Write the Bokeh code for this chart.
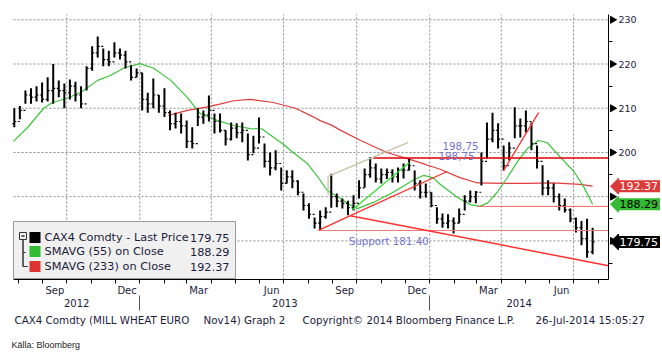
import math
import pandas as pd
from bokeh.plotting import figure
from bokeh.models import (Range1d, FixedTicker, DatetimeAxis, DatetimeTickFormatter,
                          Label, BoxAnnotation)
from bokeh.embed import file_html
from bokeh.resources import INLINE

# ---------------- data ----------------
first_week = "2012-07-27"
first_open = 206.5
highs = [210, 210.5, 214, 214.5, 215, 215.8, 217, 220, 216.3, 215.6,
         216.5, 216, 215, 219.5, 224, 226.2, 223.5, 223, 224.9, 223.5,
         223, 219.7, 219, 218, 213.5, 216.7, 213, 214.5, 209.5, 209,
         208.8, 207.2, 205.7, 210, 209.5, 212.9, 208.8, 208.8, 205, 206.8,
         206.6, 206.8, 204.3, 203.8, 207.9, 202, 200, 200.5, 196.6, 196,
         196, 193.7, 190.7, 188.5, 185.3, 186.9, 187.6, 195.2, 190.7, 189.6,
         189.1, 190.3, 193.7, 196.4, 198.9, 197.5, 196.4, 196.4, 196.2, 196.6,
         197.5, 198.6, 195.9, 193.7, 193, 191, 187.6, 186.2, 186, 185.3,
         187.3, 190.3, 191.4, 191.3, 200, 206.8, 209, 206.6, 201.6, 202.3,
         210.2, 207.7, 209.5, 206.8, 201.6, 197.1, 193.7, 193, 190.7, 189.6,
         187.3, 185.3, 184.5, 185, 183]
lows = [205.7, 207.5, 211, 211, 211.5, 211.3, 211.5, 211, 212.5, 210,
        212, 211.5, 210, 214, 218.5, 221.5, 219.5, 219.5, 221.5, 221,
        219, 216.3, 217, 209.5, 209, 210, 209, 208, 205, 205.4,
        204.3, 201, 200.9, 206, 206.5, 207, 204.3, 204.5, 201.6, 202.7,
        203.2, 202.3, 198.2, 199.8, 202, 196.6, 194.8, 196, 191.4, 193,
        191.9, 190.3, 186.9, 185, 182.8, 182.4, 185, 187.5, 187.6, 187.3,
        185.8, 186.9, 189.6, 192.1, 194.3, 193.2, 193, 194, 193.2, 193.2,
        194.1, 195.9, 191.4, 189.6, 189.8, 187.6, 183.9, 183, 182.8, 181.7,
        184, 186.9, 188.7, 188.5, 192.5, 198.6, 202.3, 200.9, 195.9, 198.2,
        203.2, 203.4, 204.5, 200.5, 196.4, 190.3, 190.3, 188.7, 186.9, 186.4,
        184.2, 181.9, 179, 176.2, 177]
closes = [207, 209.5, 213, 212.5, 213, 212, 214, 214.5, 214, 213.5,
          215, 213, 211, 219, 222.5, 224, 221, 220.5, 222.5, 222,
          220.5, 217, 218, 212, 211, 213, 210.5, 209, 206.5, 207,
          206, 202.5, 202, 208, 208.5, 209.5, 207, 205, 203, 205.5,
          204.5, 205, 199.5, 201, 203.5, 198, 196.5, 197.5, 193, 194.5,
          193.5, 191, 188, 186, 184, 185.5, 186.5, 190, 189, 188.5,
          187.5, 188.5, 192, 195, 196.5, 194, 195, 195.5, 194.5, 196,
          196, 197, 193, 191, 191, 188, 185, 184, 184.5, 184,
          186, 189, 190, 191, 198, 203, 205, 203, 197, 201,
          206, 206, 207, 202, 198, 192, 192, 190, 188, 187,
          185, 183, 180.5, 177.5, 179.75]

sma55_dates = ["2012-07-26", "2012-08-13", "2012-09-02", "2012-09-13", "2012-10-01",
               "2012-10-19", "2012-11-09", "2012-11-25", "2012-12-12", "2013-01-01",
               "2013-01-18", "2013-02-09", "2013-03-02", "2013-03-18", "2013-04-09",
               "2013-04-29", "2013-05-20", "2013-06-04", "2013-06-10", "2013-07-01",
               "2013-07-13", "2013-07-31", "2013-08-13", "2013-08-25", "2013-09-11",
               "2013-09-19", "2013-10-02", "2013-10-22", "2013-11-16", "2013-12-11",
               "2013-12-24", "2014-01-05", "2014-01-14", "2014-02-05", "2014-02-21",
               "2014-03-05", "2014-03-15", "2014-03-27", "2014-04-09", "2014-04-21",
               "2014-05-04", "2014-05-18", "2014-05-29", "2014-06-14", "2014-07-01",
               "2014-07-13", "2014-07-25"]
sma55_vals = [202.5, 205.7, 210, 211.3, 212.2, 213.6, 216.3, 217.4, 219.1, 220.1,
              219.1, 216.3, 212.4, 208.8, 207.2, 206.1, 205.4, 205.3, 204.5, 201.8,
              200, 197.5, 194.5, 191.4, 189.6, 188.5, 187.3, 188.7, 191, 193.7,
              194.8, 194.3, 192.8, 189.8, 188.2, 187.8, 188.6, 191, 194.4, 197.8,
              200.9, 202.7, 202.2, 199, 195.8, 192.5, 188.29]

sma233_dates = ["2013-02-06", "2013-03-02", "2013-03-27", "2013-04-13", "2013-04-29",
                "2013-05-20", "2013-06-18", "2013-07-16", "2013-08-08", "2013-08-16",
                "2013-08-29", "2013-09-11", "2013-10-06", "2013-11-08", "2013-12-11",
                "2014-01-14", "2014-02-08", "2014-03-02", "2014-04-04", "2014-05-04",
                "2014-06-05", "2014-07-09", "2014-07-25"]
sma233_vals = [208.4, 209.5, 210.3, 211, 211.7, 212, 211.3, 210, 208, 207.2,
               206.3, 205, 202.7, 200, 198.2, 196.2, 194.3, 193.1, 193, 193,
               193.1, 192.8, 192.37]

last_price = 179.75
sma55_last = 188.29
sma233_last = 192.37

# hand-drawn study lines: start / end
tl_x0 = ["2013-10-22", "2013-08-14", "2013-08-14", "2013-09-23", "2013-09-23",
         "2013-08-26", "2013-08-26", "2013-09-26", "2014-04-04", "2014-03-02"]
tl_y0 = [198.75, 182.35, 182.4, 185.7, 185.7, 190.3, 194.6, 187.1, 195.9, 187.8]
tl_x1 = ["2014-08-14", "2014-08-14", "2013-09-23", "2014-08-14", "2014-01-23",
         "2013-08-26", "2013-12-05", "2013-12-06", "2014-05-18", "2014-08-14"]
tl_y1 = [198.75, 182.35, 185.7, 174.4, 195.7, 194.6, 202.3, 197.7, 209.0, 187.8]

note_texts = ["198,75", "198,75", "Support 181.40"]
note_x = ["2014-01-17", "2014-01-12", "2013-09-21"]
note_y = [201.4, 199.3, 179.9]

legend_names = ["CAX4 Comdty - Last Price", "SMAVG (55) on Close", "SMAVG (233) on Close"]
legend_values = [last_price, sma55_last, sma233_last]

year_labels = [2012, 2013, 2014]
y_levels = [180, 190, 200, 210, 220, 230]
y_minor = [175, 185, 195, 205, 215, 225]
plot_start, plot_end = "2012-07-26", "2014-08-14"
y_bot, y_top = 171.27, 231.2

footer_parts = ["CAX4 Comdty (MILL WHEAT EURO", "Nov14) Graph 2",
                "Copyright\u00a9 2014 Bloomberg Finance L.P.", "26-Jul-2014 15:05:27"]
source_text = "K\u00e4lla: Bloomberg"

# ---------------- layout (pixels) ----------------
W, H = 662, 363
BOX_L, BOX_R, BOX_T, BOX_B = 13, 608, 14, 279


def ms(d):
    return pd.Timestamp(d).value / 1e6


def sy(img_y):          # image row -> screen y (from bottom of canvas)
    return H - img_y


FONT = "DejaVu Sans"
TXT = "#1c1c3c"
GREEN = "#3cc43c"
RED = "#e03c3c"
GRID = "#8a8a8a"

x0_ms, x1_ms = ms(plot_start), ms(plot_end)
dpp = (x1_ms - x0_ms) / (BOX_R - BOX_L)
upp = (y_top - y_bot) / (BOX_B - BOX_T)

p = figure(width=W, height=H, x_axis_type="datetime", y_axis_location="right",
           x_range=Range1d(x0_ms - BOX_L * dpp, x1_ms + (W - BOX_R) * dpp),
           y_range=Range1d(y_bot - (H - BOX_B) * upp, y_top + BOX_T * upp),
           title=None, output_backend="svg", toolbar_location=None,
           min_border=0, min_border_left=0, min_border_right=0,
           min_border_top=0, min_border_bottom=0)
p.outline_line_color = None
p.background_fill_color = "white"
p.border_fill_color = "white"
p.xgrid.visible = False
p.ygrid.visible = False

month_starts = pd.date_range("2012-08-01", "2014-08-01", freq="MS")
mid_q = [d + pd.Timedelta(days=15) for d in month_starts if d.month in (3, 6, 9, 12)]
quarter_starts = [d for d in month_starts if d.month in (1, 4, 7, 10)]


def fmt(s):
    return DatetimeTickFormatter(days=s, months=s, years=s, hours=s, hourmin=s,
                                 minutes=s, minsec=s, seconds=s, milliseconds=s,
                                 microseconds=s)


# month axis
xa = p.xaxis[0]
xa.fixed_location = y_bot
xa.bounds = (x0_ms, x1_ms)
xa.ticker = FixedTicker(ticks=[ms(d) for d in mid_q], minor_ticks=[ms(d) for d in month_starts])
xa.formatter = fmt("%b")
xa.major_tick_line_color = None
xa.major_tick_in = 0
xa.major_tick_out = 0
xa.minor_tick_in = 0
xa.minor_tick_out = 4
xa.minor_tick_line_color = "black"
xa.axis_line_color = "black"
xa.major_label_standoff = 1
xa.major_label_text_font = FONT
xa.major_label_text_font_size = "10px"
xa.major_label_text_color = TXT

# year axis
xs, xe = pd.Timestamp(plot_start), pd.Timestamp(plot_end)
year_centers, year_seps = [], []
for yr in year_labels:
    a = max(pd.Timestamp(f"{yr}-01-01"), xs)
    b = min(pd.Timestamp(f"{yr + 1}-01-01"), xe)
    year_centers.append((ms(a) + ms(b)) / 2)
    if pd.Timestamp(f"{yr}-01-01") > xs:
        year_seps.append(ms(f"{yr}-01-01"))
yax2 = DatetimeAxis(ticker=FixedTicker(ticks=year_centers, minor_ticks=year_seps),
                    formatter=fmt("%Y"))
yax2.fixed_location = y_bot
yax2.bounds = (x0_ms, x1_ms)
yax2.axis_line_color = None
yax2.major_tick_line_color = None
yax2.major_tick_in = 0
yax2.major_tick_out = 0
yax2.minor_tick_in = -16
yax2.minor_tick_out = 31
yax2.minor_tick_line_color = "#555555"
yax2.major_label_standoff = -12
yax2.major_label_text_font = FONT
yax2.major_label_text_font_size = "10px"
yax2.major_label_text_color = TXT
p.add_layout(yax2, "below")

# price axis (right)
ya = p.yaxis[0]
ya.fixed_location = x1_ms
ya.bounds = (y_bot, y_top)
ya.ticker = FixedTicker(ticks=y_levels, minor_ticks=y_minor)
ya.major_label_overrides = {180: "", 190: ""}
ya.major_tick_line_color = None
ya.major_tick_in = 0
ya.major_tick_out = 0
ya.minor_tick_in = 0
ya.minor_tick_out = 4
ya.axis_line_color = "black"
ya.major_label_standoff = 6
ya.major_label_text_font = FONT
ya.major_label_text_font_size = "9.5px"
ya.major_label_text_color = TXT
p.scatter(x=[x1_ms + 4 * dpp] * len(y_levels), y=y_levels, marker="triangle",
          size=7, angle=-math.pi / 2, fill_color="black", line_color="black")

# dotted grid inside the plot box
qs = [pd.Timestamp(d) for d in quarter_starts]
p.segment(x0=qs, y0=[y_bot] * len(qs), x1=qs, y1=[y_top] * len(qs),
          line_color=GRID, line_dash="2 2", line_width=1)
p.segment(x0=[xs] * len(y_levels), y0=y_levels, x1=[xe] * len(y_levels), y1=y_levels,
          line_color=GRID, line_dash="2 2", line_width=1)

# moving averages
p.line(pd.to_datetime(sma233_dates), sma233_vals, line_color=RED, line_width=1.2)
p.line(pd.to_datetime(sma55_dates), sma55_vals, line_color=GREEN, line_width=1.2)

# price bars
weeks = pd.date_range(first_week, periods=len(closes), freq="W-FRI")
opens = [first_open] + closes[:-1]
tick = pd.Timedelta(days=2.5)
p.segment(x0=weeks, y0=lows, x1=weeks, y1=highs, line_color="black", line_width=2)
p.segment(x0=weeks - tick, y0=opens, x1=weeks, y1=opens, line_color="black", line_width=1.2)
p.segment(x0=weeks, y0=closes, x1=weeks + tick, y1=closes, line_color="black", line_width=1.2)

# study lines
styles = [("#e00000", 1.3), ("#f07a7a", 1), ("#ff3030", 1.3), ("#ff3030", 1.5),
          ("#ff3030", 1.3), ("#c8c2a4", 1.3), ("#c8c2a4", 1.3), ("#33e033", 1.3),
          ("#ff3030", 1.3), ("#f06464", 1)]
for i, (c, w) in enumerate(styles):
    p.segment(x0=[pd.Timestamp(tl_x0[i])], y0=[tl_y0[i]], x1=[pd.Timestamp(tl_x1[i])],
              y1=[tl_y1[i]], line_color=c, line_width=w)

for t, x, y in zip(note_texts, note_x, note_y):
    p.add_layout(Label(x=ms(x), y=y, text=t, text_font=FONT, text_font_size="10.3px",
                       text_color="#7474d2", text_baseline="middle", text_align="left"))


# legend (screen coords: from the canvas' bottom-left)
def box(l, r, b, t, fill=None, line="#444444"):
    return BoxAnnotation(left=l, right=r, bottom=b, top=t, left_units="screen",
                         right_units="screen", bottom_units="screen", top_units="screen",
                         fill_color=fill if fill else "white", fill_alpha=1 if fill else 0,
                         line_color=line if line else "white", line_width=1,
                         line_alpha=1 if line else 0)


p.add_layout(box(13, 235, sy(278), sy(221), fill="#f0f0f0", line="#9a9a9a"))
p.add_layout(box(19, 26, sy(239), sy(232), line="#333333"))
p.add_layout(box(21, 24, sy(235.5), sy(235.5), line="#333333"))
p.add_layout(box(22.5, 22.5, sy(266), sy(239), line="#333333"))
p.add_layout(box(22.5, 25, sy(252), sy(252), line="#333333"))
p.add_layout(box(22.5, 27, sy(266), sy(266), line="#333333"))
sq_colors = ["#000000", "#33bb33", "#dd3333"]
rows = [237, 251, 266]
for c, r, name, v in zip(sq_colors, rows, legend_names, legend_values):
    p.add_layout(box(29, 40, sy(r + 5.5), sy(r - 5.5), fill=c, line=None))
    p.add_layout(Label(x=44, y=sy(r), x_units="screen", y_units="screen", text=name,
                       text_font=FONT, text_font_size="11.3px", text_color=TXT,
                       text_baseline="middle"))
    p.add_layout(Label(x=229, y=sy(r), x_units="screen", y_units="screen", text=f"{v:.2f}",
                       text_font=FONT, text_font_size="11.3px", text_color=TXT,
                       text_baseline="middle", text_align="right"))

# last-value flags on the price axis
flags = [(sma233_last, "#dd3a3a", "white"), (sma55_last, "#33bb33", "black"),
         (last_price, "#000000", "white")]
for v, bg, fg in flags:
    tip, base = x1_ms + 2 * dpp, x1_ms + 10 * dpp
    half = 8 * upp
    p.patch(x=[tip, base, base], y=[v, v + half, v - half], fill_color=bg, line_color=bg)
    p.add_layout(Label(x=617, y=v, x_units="screen", text=f"{v:.2f}", text_font=FONT,
                       text_font_size="11px", text_color=fg, background_fill_color=bg,
                       text_baseline="middle", text_align="left", padding=2))

# footer
for t, x in zip(footer_parts, [14, 203, 302, 535]):
    p.add_layout(Label(x=x, y=sy(319), x_units="screen", y_units="screen", text=t,
                       text_font=FONT, text_font_size="10.3px", text_color=TXT,
                       text_baseline="middle"))
p.add_layout(Label(x=11, y=sy(344), x_units="screen", y_units="screen", text=source_text,
                   text_font="Liberation Sans", text_font_size="9px", text_color="#222222",
                   text_baseline="middle"))

open("out.html", "w").write(file_html(p, INLINE))
